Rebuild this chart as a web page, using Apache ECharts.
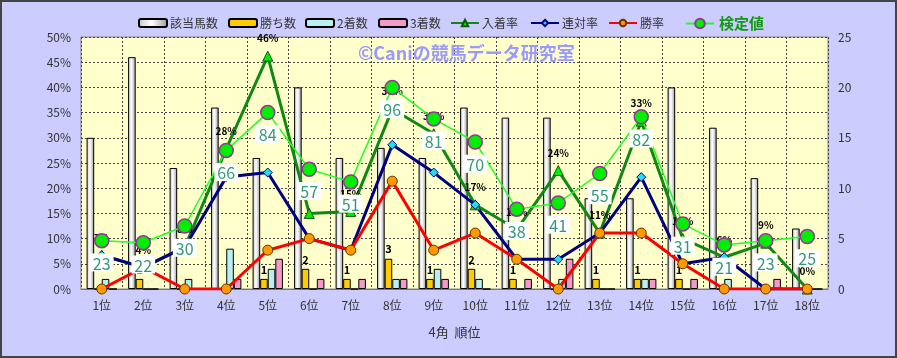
<!DOCTYPE html>
<html><head><meta charset="utf-8">
<script src="https://cdn.jsdelivr.net/npm/echarts@6/dist/echarts.min.js"></script>
<style>
html,body{margin:0;padding:0;background:#ccccff;}
#c{width:897px;height:358px;box-sizing:border-box;border:2px solid #444;}
</style></head><body>
<div id="c"></div>
<script>
const categories = ['1位','2位','3位','4位','5位','6位','7位','8位','9位','10位','11位','12位','13位','14位','15位','16位','17位','18位'];
const horses  = [15,23,12,18,13,20,13,14,13,18,17,17,9,9,20,16,11,6];
const wins    = [0,1,0,0,1,2,1,3,1,2,1,0,1,1,1,0,0,0];
const seconds = [1,0,1,4,2,0,0,1,2,1,0,1,0,1,0,1,0,0];
const thirds  = [0,0,0,1,3,1,1,1,1,0,1,3,0,1,1,0,1,0];
const placeRate = [6.7,4.3,8.3,27.8,46.2,15.0,15.4,35.7,30.8,16.7,11.8,23.5,11.1,33.3,10.0,6.3,9.1,0];
const top2Rate  = [6.7,4.3,8.3,22.2,23.1,10.0,7.7,28.6,23.1,16.7,5.9,5.9,11.1,22.2,5.0,6.3,0,0];
const winRate   = [0,4.3,0,0,7.7,10.0,7.7,21.4,7.7,11.1,5.9,0,11.1,11.1,5.0,0,0,0];
const testValue = [23,22,30,66,84,57,51,96,81,70,38,41,55,82,31,21,23,25];
const legendNames = ['該当馬数','勝ち数','2着数','3着数','入着率','連対率','勝率'];

const font = '"Noto Sans CJK JP", "Noto Sans", sans-serif';
const chart = echarts.init(document.getElementById('c'));
const bw = 'black';
const legendLeft = [131,221,298,371,443,523,601];
const legends = legendNames.map((n,i)=>({
  left:legendLeft[i],top:10,itemWidth:28,itemHeight:8,itemGap:0,
  textStyle:{fontSize:12,color:'#333',fontFamily:font,padding:[0,0,0,-2]},
  data:[n]
}));
legends.push({left:678,top:9,itemWidth:28,itemHeight:12,
    textStyle:{fontSize:15,color:'#119911',fontWeight:'bold',fontFamily:font},
    data:['検定値']});
chart.setOption({
  animation:false,
  textStyle:{fontFamily:font},
  grid:{left:79,right:67,top:35,bottom:67,show:true,backgroundColor:'#ffffcc',borderColor:'#888',borderWidth:1},
  graphic:[{type:'text',left:356,top:42,z:1,style:{text:'©Caniの競馬データ研究室',fill:'#9999ff',font:'bold 18px '+font}}],
  legend:legends,
  xAxis:{type:'category',data:categories,boundaryGap:true,
    axisLine:{lineStyle:{color:'#777'}},axisTick:{show:false},
    axisLabel:{color:'#333',fontSize:12,margin:10},
    splitLine:{show:true,interval:0,lineStyle:{color:'#444',type:[2,2],width:1}},
    name:'4角  順位',nameLocation:'middle',nameGap:37,nameTextStyle:{color:'#333',fontSize:13}},
  yAxis:[{type:'value',min:0,max:50,interval:5,
    axisLabel:{formatter:'{value}%',color:'#333',fontSize:12,margin:10},
    axisLine:{show:false},axisTick:{show:false},
    splitLine:{show:true,lineStyle:{color:'#444',type:[2,2],width:1}}},
   {type:'value',min:0,max:25,interval:5,position:'right',
    axisLabel:{color:'#333',fontSize:12,margin:10},
    axisLine:{show:false},axisTick:{show:false},splitLine:{show:false}},
   {type:'value',min:0,max:120,show:false}],
  series:[
   {name:'該当馬数',type:'bar',yAxisIndex:1,data:horses,barGap:'0%',barCategoryGap:'27%',z:2,
    itemStyle:{borderColor:bw,borderWidth:1,color:{type:'linear',x:0,y:0,x2:1,y2:0,colorStops:[{offset:0,color:'#c8c8c8'},{offset:0.45,color:'#ffffff'},{offset:1,color:'#999999'}]}}},
   {name:'勝ち数',type:'bar',yAxisIndex:1,data:wins,z:2,
    itemStyle:{borderColor:bw,borderWidth:1,color:'#ffcc00'},
    label:{show:true,position:'top',distance:4,fontSize:11,fontWeight:'bold',color:'#000',
      formatter:p=>p.value>0?String(p.value):''}},
   {name:'2着数',type:'bar',yAxisIndex:1,data:seconds,z:2,
    itemStyle:{borderColor:bw,borderWidth:1,color:'#b8f0f0'}},
   {name:'3着数',type:'bar',yAxisIndex:1,data:thirds,z:2,
    itemStyle:{borderColor:bw,borderWidth:1,color:'#f59ac8'}},
   {name:'入着率',type:'line',yAxisIndex:0,data:placeRate,z:4,symbol:'triangle',symbolSize:10,
    lineStyle:{color:'#118811',width:3},itemStyle:{color:'#00ee00',borderColor:'#115511',borderWidth:1},
    label:{show:true,position:'top',distance:7,fontSize:10,fontWeight:'bold',color:'#000',
      formatter:p=>Math.round(p.value)+'%'}},
   {name:'連対率',type:'line',yAxisIndex:0,data:top2Rate,z:4,symbol:'diamond',symbolSize:9,
    lineStyle:{color:'#000080',width:3},itemStyle:{color:'#22ddee',borderColor:'#000080',borderWidth:1}},
   {name:'勝率',type:'line',yAxisIndex:0,data:winRate,z:4,symbol:'circle',symbolSize:10,
    lineStyle:{color:'#ff0000',width:3},itemStyle:{color:'#ff9900',borderColor:'#663300',borderWidth:1}},
   {name:'検定値',type:'line',yAxisIndex:2,data:testValue,z:6,symbol:'circle',symbolSize:14,
    lineStyle:{color:'#22ff22',width:1.5},itemStyle:{color:'#00ee00',borderColor:'#993399',borderWidth:1.5},
    label:{show:true,position:'bottom',distance:5,fontSize:16,color:'#339977',backgroundColor:'#ffffff',padding:[2,3,0,3]}}
  ]
});
</script></body></html>
